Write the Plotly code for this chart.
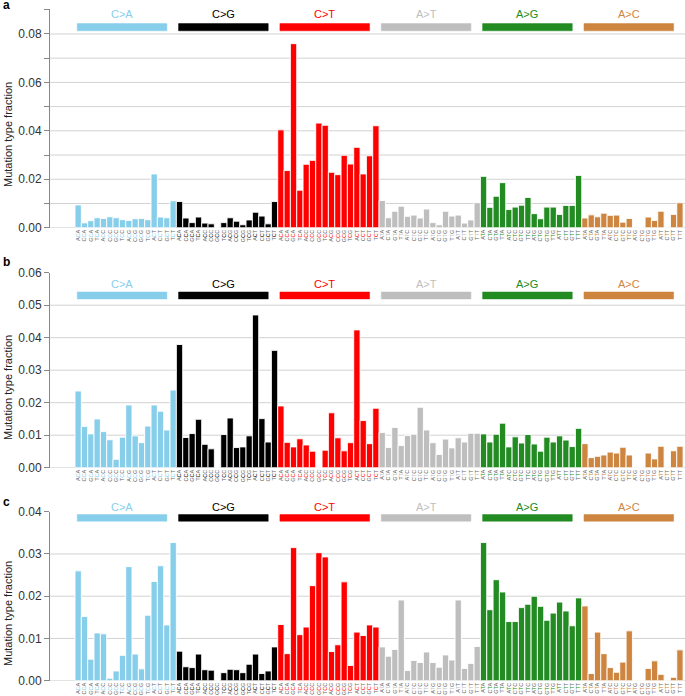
import plotly.graph_objects as go

W, H = 685, 696

# ---------------- data ----------------
groups = ["C>A", "C>G", "C>T", "A>T", "A>G", "A>C"]
group_colors = ["#87CEEB", "#000000", "#FF0000", "#BEBEBE", "#228B22", "#CD853F"]
ref_bases = ["C", "C", "C", "T", "T", "T"]
bases = ["A", "C", "G", "T"]

panel_letters = ["a", "b", "c"]

# panel a (16 values per group, order: ACA CCA GCA TCA ACC ... TCT)
a_CA = [0.0094, 0.0020, 0.0029, 0.0041, 0.0038, 0.0045, 0.0041, 0.0033, 0.0030, 0.0037, 0.0038, 0.0033, 0.0222, 0.0044, 0.0041, 0.0111]
a_CG = [0.0108, 0.0040, 0.0021, 0.0044, 0.0019, 0.0016, 0.0, 0.0021, 0.0041, 0.0027, 0.0012, 0.0032, 0.0064, 0.0048, 0.0016, 0.0108]
a_CT = [0.0404, 0.0236, 0.0760, 0.0155, 0.0262, 0.0278, 0.0432, 0.0423, 0.0229, 0.0219, 0.0299, 0.0263, 0.0332, 0.0222, 0.0297, 0.0421]
a_AT = [0.0112, 0.0041, 0.0068, 0.0089, 0.0047, 0.0052, 0.0040, 0.0077, 0.0021, 0.0012, 0.0068, 0.0048, 0.0052, 0.0019, 0.0032, 0.0103]
a_AG = [0.0212, 0.0084, 0.0130, 0.0186, 0.0075, 0.0085, 0.0093, 0.0125, 0.0058, 0.0037, 0.0085, 0.0085, 0.0055, 0.0092, 0.0092, 0.0216]
a_AC = [0.0040, 0.0053, 0.0045, 0.0060, 0.0051, 0.0052, 0.0023, 0.0038, 0.0, 0.0, 0.0044, 0.0030, 0.0068, 0.0, 0.0055, 0.0103]

# panel b
b_CA = [0.0236, 0.0127, 0.0104, 0.0150, 0.0111, 0.0086, 0.0026, 0.0094, 0.0193, 0.0098, 0.0077, 0.0128, 0.0193, 0.0174, 0.0116, 0.0239]
b_CG = [0.0379, 0.0093, 0.0105, 0.0149, 0.0072, 0.0058, 0.0, 0.0102, 0.0153, 0.0062, 0.0064, 0.0098, 0.0470, 0.0151, 0.0079, 0.0361]
b_CT = [0.0190, 0.0078, 0.0064, 0.0089, 0.0070, 0.0051, 0.0, 0.0054, 0.0169, 0.0092, 0.0052, 0.0077, 0.0424, 0.0145, 0.0074, 0.0183]
b_AT = [0.0108, 0.0062, 0.0124, 0.0068, 0.0099, 0.0103, 0.0186, 0.0116, 0.0077, 0.0041, 0.0088, 0.0061, 0.0092, 0.0079, 0.0106, 0.0106]
b_AG = [0.0104, 0.0079, 0.0103, 0.0137, 0.0064, 0.0095, 0.0076, 0.0102, 0.0073, 0.0051, 0.0094, 0.0079, 0.0098, 0.0085, 0.0065, 0.0121]
b_AC = [0.0074, 0.0031, 0.0035, 0.0039, 0.0048, 0.0045, 0.0063, 0.0039, 0.0, 0.0, 0.0045, 0.0027, 0.0066, 0.0, 0.0052, 0.0066]

# panel c
c_CA = [0.0260, 0.0152, 0.0051, 0.0113, 0.0111, 0.0006, 0.0023, 0.0060, 0.0270, 0.0063, 0.0028, 0.0155, 0.0235, 0.0272, 0.0132, 0.0327]
c_CG = [0.0070, 0.0033, 0.0031, 0.0063, 0.0026, 0.0025, 0.0, 0.0019, 0.0027, 0.0026, 0.0019, 0.0039, 0.0063, 0.0017, 0.0023, 0.0080]
c_CT = [0.0133, 0.0064, 0.0315, 0.0109, 0.0127, 0.0225, 0.0303, 0.0293, 0.0069, 0.0085, 0.0234, 0.0036, 0.0115, 0.0107, 0.0132, 0.0127]
c_AT = [0.0080, 0.0058, 0.0074, 0.0191, 0.0024, 0.0048, 0.0043, 0.0068, 0.0043, 0.0032, 0.0061, 0.0049, 0.0191, 0.0029, 0.0041, 0.0081]
c_AG = [0.0327, 0.0168, 0.0239, 0.0210, 0.0140, 0.0140, 0.0173, 0.0181, 0.0200, 0.0176, 0.0143, 0.0160, 0.0186, 0.0165, 0.0130, 0.0196]
c_AC = [0.0177, 0.0017, 0.0115, 0.0064, 0.0031, 0.0020, 0.0044, 0.0118, 0.0, 0.0, 0.0029, 0.0047, 0.0015, 0.0, 0.0008, 0.0073]

panel_values = [
    a_CA + a_CG + a_CT + a_AT + a_AG + a_AC,
    b_CA + b_CG + b_CT + b_AT + b_AG + b_AC,
    c_CA + c_CG + c_CT + c_AT + c_AG + c_AC,
]

y_ranges = [0.0903, 0.06, 0.04]
y_major_ticks = [
    [0.00, 0.02, 0.04, 0.06, 0.08],
    [0.00, 0.01, 0.02, 0.03, 0.04, 0.05, 0.06],
    [0.00, 0.01, 0.02, 0.03, 0.04],
]
y_minor_ticks = [[0.01, 0.03, 0.05, 0.07, 0.09], [], []]
y_gridlines = [
    [0.00, 0.01, 0.02, 0.03, 0.04, 0.05, 0.06, 0.07, 0.08],
    [0.00, 0.01, 0.02, 0.03, 0.04, 0.05],
    [0.00, 0.01, 0.02, 0.03],
]

# ---------------- layout geometry (pixels) ----------------
FONT = "Liberation Sans, Arial, Helvetica, sans-serif"
panel_px = [(9.0, 227.7), (272.7, 467.7), (511.7, 680.7)]     # (top, zero line)
header_bar_px = [(23.6, 30.8), (292.0, 298.9), (514.6, 521.2)]
header_label_px = [14.0, 284.3, 506.7]
ytitle_px = [135, 388, 614]
letter_px = [5, 262, 502]
GRID = "#d2d2d2"
AXIS = "#888888"

def py(p):
    return 1 - p / H

# category tick labels with coloured central base
contexts, ticktext, bar_colors = [], [], []
for g, grp in enumerate(groups):
    for f3 in bases:
        for f5 in bases:
            contexts.append(f5 + ref_bases[g] + f3)
            ticktext.append(f'{f5}<span style="color:{group_colors[g]}">{ref_bases[g]}</span>{f3}')
            bar_colors.append(group_colors[g])
xpos = list(range(len(contexts)))

fig = go.Figure()
shapes, annotations = [], []
layout = dict(
    template="none",
    width=W, height=H, margin=dict(l=0, r=0, t=0, b=0, autoexpand=False),
    paper_bgcolor="white", plot_bgcolor="white",
    showlegend=False, bargap=0, font=dict(family=FONT, color="#222"),
)

for p in range(3):
    sfx = "" if p == 0 else str(p + 1)
    fig.add_trace(go.Bar(
        x=xpos, y=panel_values[p], width=1.0,
        marker=dict(color=bar_colors, line=dict(color="white", width=0.9)),
        xaxis="x" + sfx, yaxis="y" + sfx, hoverinfo="skip",
    ))
    top, zero = panel_px[p]
    layout["xaxis" + sfx] = dict(
        domain=[50 / W, 1.0], range=[-4.45, 95.8], anchor="y" + sfx,
        automargin=False,
        tickmode="array", tickvals=xpos, ticktext=ticktext, tickangle=-90,
        tickfont=dict(size=5.5, color="#666", family=FONT),
        showgrid=False, zeroline=False, showline=False, ticks="",
        fixedrange=True,
    )
    ydict = dict(
        domain=[py(zero), py(top)], range=[0, y_ranges[p]], anchor="x" + sfx,
        automargin=False,
        tickmode="array", tickvals=y_major_ticks[p],
        ticktext=[f"{v:.2f}" for v in y_major_ticks[p]],
        tickfont=dict(size=12, color="#333", family=FONT),
        ticks="outside", ticklen=5, tickcolor=AXIS, tickwidth=1,
        showline=True, linecolor=AXIS, linewidth=1,
        showgrid=False, zeroline=False,
        fixedrange=True,
    )
    if y_minor_ticks[p]:
        ydict["minor"] = dict(tickmode="array", tickvals=y_minor_ticks[p], ticks="outside",
                              ticklen=5, tickcolor=AXIS, tickwidth=1, showgrid=False)
    layout["yaxis" + sfx] = ydict

    # horizontal gridlines
    for gv in y_gridlines[p]:
        shapes.append(dict(type="line", xref="x" + sfx + " domain", yref="y" + sfx,
                           x0=0, x1=1, y0=gv, y1=gv, layer="below",
                           line=dict(color=GRID, width=1)))

    # group header bars and labels
    b0, b1 = header_bar_px[p]
    for g, grp in enumerate(groups):
        x0 = 16 * g - 0.15
        x1 = 16 * g + 14.0
        shapes.append(dict(type="rect", xref="x" + sfx, yref="paper",
                           x0=x0, x1=x1, y0=py(b1), y1=py(b0),
                           fillcolor=group_colors[g], line=dict(color=group_colors[g], width=0.5),
                           layer="above"))
        annotations.append(dict(text=grp, xref="x" + sfx, yref="paper",
                                x=(x0 + x1) / 2, y=py(header_label_px[p]),
                                showarrow=False, xanchor="center", yanchor="middle",
                                font=dict(size=11, color=group_colors[g], family=FONT)))
    # y-axis title
    annotations.append(dict(text="Mutation type fraction", xref="paper", yref="paper",
                            x=8 / W, y=py(ytitle_px[p]), textangle=-90, showarrow=False,
                            xanchor="center", yanchor="middle",
                            font=dict(size=11, color="#222", family=FONT)))
    # panel letter
    annotations.append(dict(text=f"<b>{panel_letters[p]}</b>", xref="paper", yref="paper",
                            x=1 / W, y=py(letter_px[p]), showarrow=False,
                            xanchor="left", yanchor="middle",
                            font=dict(size=12, color="#000", family=FONT)))

layout["shapes"] = shapes
layout["annotations"] = annotations
fig.update_layout(**layout)
fig.write_html("out.html", config={"displayModeBar": False, "staticPlot": True},
               post_script="document.body.style.margin='0';document.body.style.overflow='hidden';")
